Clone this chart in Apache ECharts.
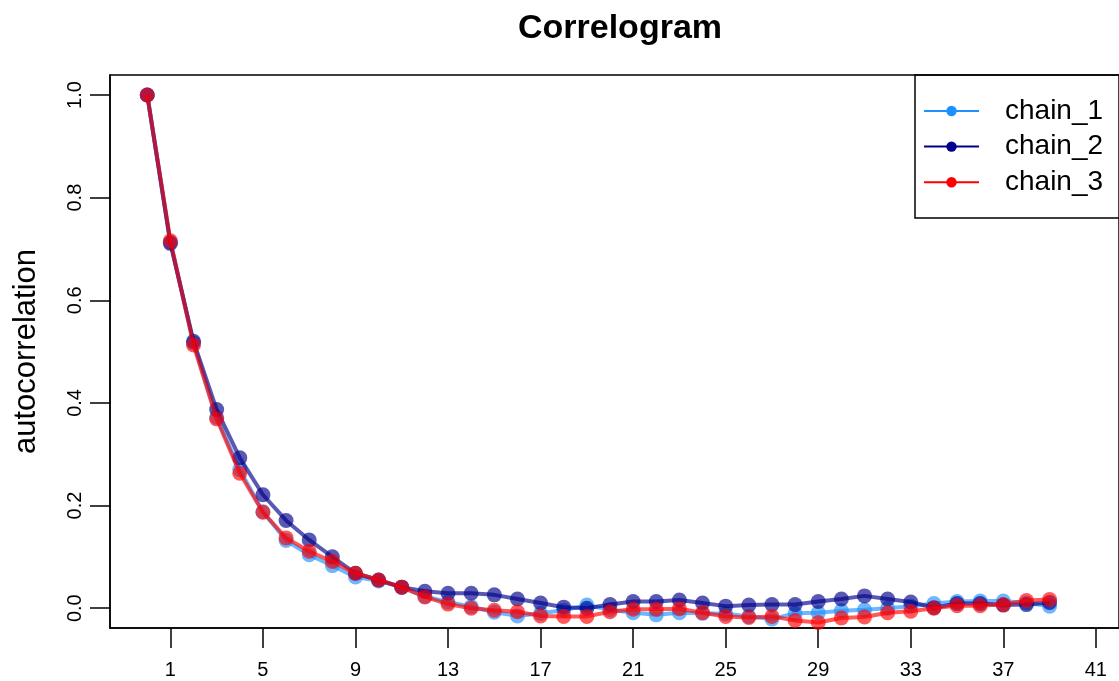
<!DOCTYPE html>
<html>
<head>
<meta charset="utf-8">
<script src="https://cdn.jsdelivr.net/npm/echarts@6/dist/echarts.min.js"></script>
<style>html,body{margin:0;padding:0;background:#fff;}#c{width:1119px;height:681px;}</style>
</head>
<body>
<div id="c"></div>
<script>
const lags = Array.from({length: 40}, (_, i) => i);
const xTicks = [1, 5, 9, 13, 17, 21, 25, 29, 33, 37, 41];
const yTicks = [0, 0.2, 0.4, 0.6, 0.8, 1.0];
const seriesNames = ['chain_1', 'chain_2', 'chain_3'];
const chain_1 = [1.0, 0.713, 0.517, 0.372, 0.270, 0.188, 0.132, 0.104, 0.083, 0.061, 0.053, 0.041, 0.023, 0.012, 0.003, -0.008, -0.015, -0.010, -0.004, 0.006, -0.003, -0.009, -0.013, -0.009, -0.010, -0.011, -0.016, -0.021, -0.010, -0.009, -0.005, -0.003, 0.000, 0.004, 0.009, 0.013, 0.014, 0.014, 0.010, 0.004];
const chain_2 = [1.0, 0.711, 0.520, 0.387, 0.293, 0.221, 0.171, 0.133, 0.100, 0.068, 0.055, 0.041, 0.033, 0.029, 0.029, 0.026, 0.018, 0.010, 0.002, 0.000, 0.007, 0.013, 0.013, 0.016, 0.010, 0.004, 0.006, 0.007, 0.007, 0.013, 0.018, 0.024, 0.018, 0.012, 0.001, 0.009, 0.009, 0.006, 0.007, 0.011];
const chain_3 = [1.0, 0.716, 0.513, 0.369, 0.263, 0.187, 0.137, 0.111, 0.091, 0.068, 0.055, 0.041, 0.022, 0.008, 0.000, -0.004, -0.007, -0.015, -0.016, -0.016, -0.007, -0.002, -0.002, -0.001, -0.009, -0.016, -0.018, -0.016, -0.024, -0.028, -0.019, -0.017, -0.009, -0.006, 0.000, 0.005, 0.005, 0.007, 0.015, 0.017];
const colors = ['#1E90FF', '#00008B', '#FF0000'];
const values = [chain_1, chain_2, chain_3];

const FONT = 'Liberation Sans, Arial, Helvetica, sans-serif';
const chart = echarts.init(document.getElementById('c'), null, {renderer: 'canvas'});

const series = seriesNames.map((name, k) => ({
  name: name,
  type: 'line',
  data: lags.map((l, i) => [l, values[k][i]]),
  symbol: 'circle',
  symbolSize: 15,
  showSymbol: true,
  lineStyle: {color: colors[k], width: 4, opacity: 0.65},
  itemStyle: {color: colors[k], opacity: 0.65},
  emphasis: {disabled: true},
  animation: false,
  z: 2 + k
}));

chart.setOption({
  animation: false,
  backgroundColor: '#fff',
  title: {
    text: 'Correlogram',
    left: 615,
    textAlign: 'center',
    top: 7,
    textStyle: {fontFamily: FONT, fontSize: 34, fontWeight: 'bold', color: '#000'}
  },
  grid: {
    left: 110, top: 75, width: 1019, height: 553,
    show: true, borderColor: '#000', borderWidth: 1.5, backgroundColor: 'transparent',
    containLabel: false
  },
  legend: {
    orient: 'vertical',
    left: 923,
    top: 96,
    padding: 0,
    itemWidth: 55,
    itemHeight: 13,
    itemGap: 5.6,
    selectedMode: false,
    textStyle: {fontFamily: FONT, fontSize: 28, color: '#000', lineHeight: 30, padding: [0, 0, 0, 21]},
    data: seriesNames.map((n, k) => ({
      name: n,
      itemStyle: {color: colors[k], opacity: 1},
      lineStyle: {color: colors[k], width: 2, opacity: 1}
    }))
  },
  graphic: [{
    type: 'rect',
    shape: {x: 915, y: 75, width: 260, height: 143},
    style: {fill: 'rgba(0,0,0,0)', stroke: '#000', lineWidth: 1.5},
    z: 10, silent: true
  }],
  xAxis: {
    type: 'value',
    min: -1.61,
    max: 42,
    axisLine: {show: true, onZero: false, lineStyle: {color: '#000', width: 1.5}},
    splitLine: {show: false},
    axisTick: {show: true, inside: false, length: 20, customValues: xTicks, lineStyle: {color: '#000', width: 1.5}},
    axisLabel: {show: true, customValues: xTicks, margin: 32, fontFamily: FONT, fontSize: 20, color: '#000'}
  },
  yAxis: {
    type: 'value',
    min: -0.0386,
    max: 1.039,
    name: 'autocorrelation',
    nameLocation: 'middle',
    nameRotate: 90,
    nameGap: 68,
    nameTextStyle: {fontFamily: FONT, fontSize: 31, color: '#000'},
    axisLine: {show: true, onZero: false, lineStyle: {color: '#000', width: 1.5}},
    splitLine: {show: false},
    axisTick: {show: true, inside: false, length: 20, customValues: yTicks, lineStyle: {color: '#000', width: 1.5}},
    axisLabel: {show: true, customValues: yTicks, rotate: 90, margin: 25, fontFamily: FONT, fontSize: 20, color: '#000',
      formatter: v => v.toFixed(1)}
  },
  series: series
});
</script>
</body>
</html>
